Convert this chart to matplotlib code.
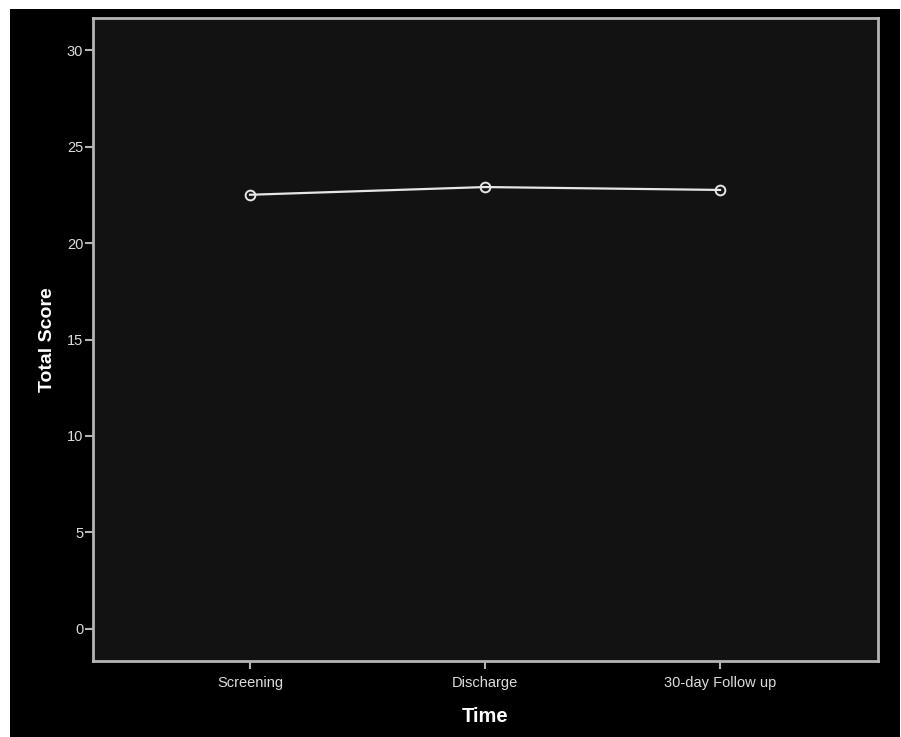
import matplotlib
matplotlib.use("Agg")
import matplotlib.pyplot as plt
from matplotlib.patches import Rectangle
import numpy as np

plt.rcParams['font.family'] = ['Liberation Sans', 'DejaVu Sans']

time_points = ['Screening', 'Discharge', '30-day Follow up']
total_score = [22.5, 22.9, 22.75]
y_ticks = [0, 5, 10, 15, 20, 25, 30]

fig = plt.figure(figsize=(9.01, 7.37), dpi=100, facecolor='white')

# black panel behind the chart
fig.add_artist(Rectangle((10 / 901, 0), 890 / 901, 728 / 737,
                         transform=fig.transFigure, facecolor='black',
                         edgecolor='none', zorder=-10))

ax = fig.add_axes([93 / 901, 1 - 661 / 737, 785 / 901, 643 / 737])
ax.set_facecolor('#121212')

x = np.arange(len(time_points))
ax.plot(x, total_score, color='#e6e6e6', linewidth=1.6, marker='o',
        markersize=7, markerfacecolor='none', markeredgecolor='#e6e6e6',
        markeredgewidth=1.4, zorder=3)

ax.set_xlim(-0.668, 2.672)
ax.set_ylim(-1.66, 31.66)
ax.set_xticks(x)
ax.set_xticklabels(time_points)
ax.set_yticks(y_ticks)

for spine in ax.spines.values():
    spine.set_color('#b4b4b4')
    spine.set_linewidth(2)

ax.tick_params(axis='both', colors='#b4b4b4', labelcolor='#dcdcdc',
               labelsize=10.5, length=6, width=1.5, direction='out')
ax.tick_params(axis='y', pad=1)
ax.tick_params(axis='x', pad=5)

ax.set_xlabel('Time', color='white', fontsize=14.5, fontweight='bold', labelpad=12)
ax.set_ylabel('Total Score', color='white', fontsize=14, fontweight='bold', labelpad=8)

fig.savefig('out.png', dpi=100, facecolor='white')
